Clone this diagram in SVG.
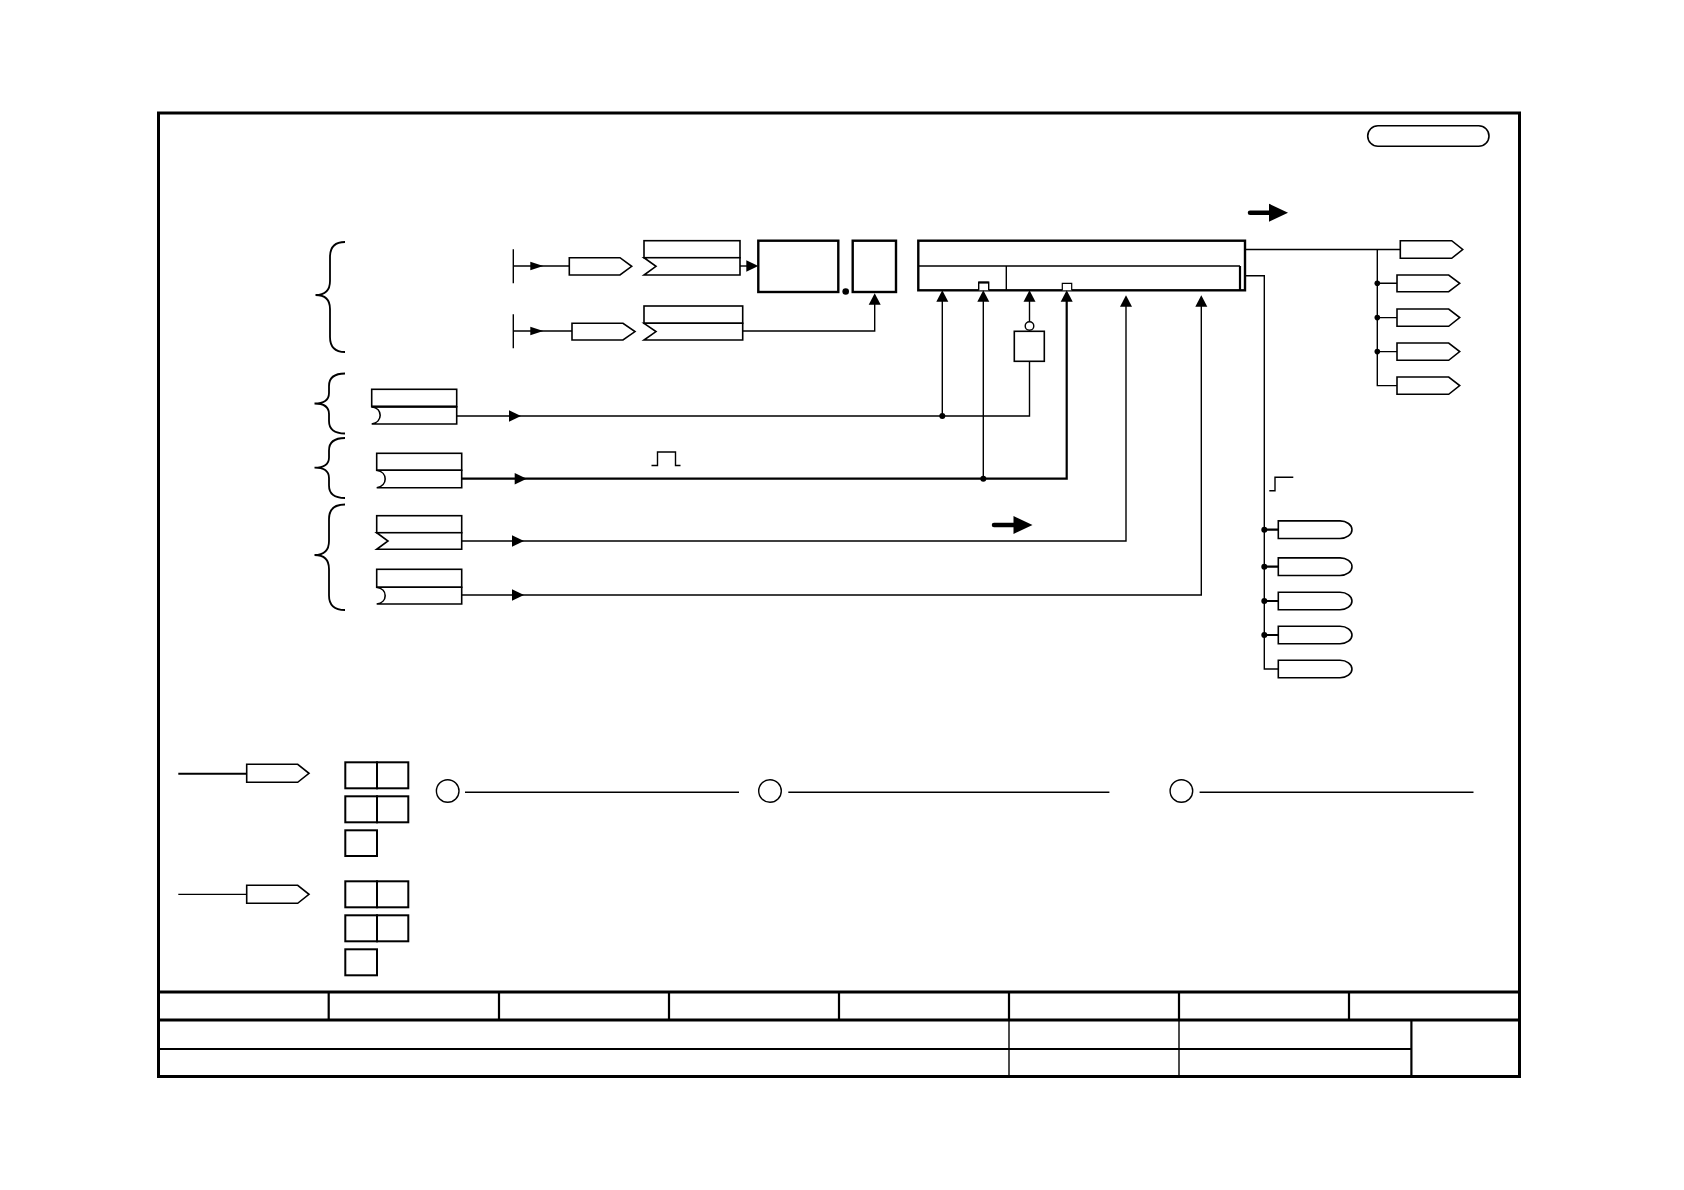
<svg xmlns="http://www.w3.org/2000/svg" width="1684" height="1190" viewBox="0 0 1684 1190">
<defs>
<path id="ah" d="M-12,-5.7 L0,0 L-12,5.7 Z"/>
<path id="ahs" d="M-13,-4.3 L0,0 L-13,4.3 Z"/>
<path id="au" d="M-6,11.5 L0,0 L6,11.5 Z"/>
</defs>
<style>
.s{fill:none;stroke:#000;stroke-width:1.4}
.k{fill:none;stroke:#000;stroke-width:2.2}
.b{fill:#fff;stroke:#000;stroke-width:1.6}
.bt{fill:#fff;stroke:#000;stroke-width:2.4}
.f{fill:#000;stroke:none}
.tb{fill:none;stroke:#000;stroke-width:3}
</style>
<rect width="1684" height="1190" fill="#fff"/>

<g id="frame">
<rect class="tb" x="158.5" y="113" width="1361" height="963.5"/>
<line class="tb" x1="158.5" y1="992" x2="1519.5" y2="992"/>
<line class="tb" x1="158.5" y1="1020" x2="1519.5" y2="1020"/>
<line class="k" x1="158.5" y1="1049" x2="1411.4" y2="1049"/>
<path class="k" d="M328.7,992V1020M499,992V1020M669,992V1020M839,992V1020M1009,992V1020M1179,992V1020M1349,992V1020"/>
<path class="s" d="M1009,1020V1076.5M1179,1020V1076.5"/>
<line class="k" x1="1411.4" y1="1020" x2="1411.4" y2="1076.5"/>
</g>

<g id="sheet-badge">
<rect class="b" x="1367.7" y="125.7" width="121.3" height="20.6" rx="10.3"/>
</g>

<g id="bold-arrows">
<line x1="1250" y1="212.7" x2="1271" y2="212.7" stroke="#000" stroke-width="4.5" stroke-linecap="round"/>
<polygon class="f" points="1269,203.7 1288,212.7 1269,221.7"/>
<line x1="994" y1="525" x2="1015" y2="525" stroke="#000" stroke-width="4.5" stroke-linecap="round"/>
<polygon class="f" points="1013.5,516 1032.5,525 1013.5,534"/>
</g>

<g id="braces" fill="none" stroke="#000" stroke-width="1.8">
<path d="M345,242 Q330,242 330,257 L330,281 Q330,295 315.5,295 Q330,295 330,309 L330,337 Q330,352 345,352"/>
<path d="M345,373.5 Q329,373.5 329,386 L329,393 Q329,403.5 314.5,403.5 Q329,403.5 329,414 L329,421 Q329,433.5 345,433.5"/>
<path d="M345,438 Q329,438 329,450.5 L329,457.5 Q329,467.7 314.5,467.7 Q329,467.7 329,478 L329,485.5 Q329,498 345,498"/>
<path d="M345,504.5 Q329,504.5 329,519 L329,541 Q329,555 314.5,555 Q329,555 329,569 L329,595.5 Q329,610 345,610"/>
</g>

<g id="src1">
<line class="s" x1="513.3" y1="249.3" x2="513.3" y2="283.3"/>
<path class="b" d="M569.3,257.7H620L631.7,266.3L620,275H569.3Z"/>
</g>
<g id="par1">
<rect class="b" x="644" y="240.7" width="96" height="17"/>
<path class="b" d="M644,257.7H740V275H644L656,266.3Z"/>
</g>
<g id="src2">
<line class="s" x1="513.3" y1="314.3" x2="513.3" y2="348.3"/>
<path class="b" d="M572,323.3H623L635,331.6L623,340H572Z"/>
</g>
<g id="par2">
<rect class="b" x="644" y="306" width="98.7" height="17.3"/>
<path class="b" d="M644,323.3H742.7V340H644L656,331.6Z"/>
</g>
<g id="blk1"><rect class="bt" x="758.3" y="240.7" width="80" height="51.3"/></g>
<g id="blk2"><rect class="bt" x="852.7" y="240.7" width="43.3" height="51.3"/></g>
<circle class="f" cx="845.7" cy="291.5" r="3.3"/>

<g id="main-block">
<rect class="bt" x="918.3" y="240.7" width="326.7" height="49.6"/>
<line class="s" x1="918.3" y1="266" x2="1240" y2="266"/>
<line class="s" x1="1006.3" y1="266" x2="1006.3" y2="290.3"/>
<line class="k" x1="1240" y1="266" x2="1240" y2="290.3"/>
<path fill="#fff" stroke="#000" stroke-width="1.4" d="M978.7,290.3V282.3H988.7V290.3"/>
<line x1="978.7" y1="282.6" x2="988.7" y2="282.6" stroke="#000" stroke-width="2"/>
<path fill="#fff" stroke="#000" stroke-width="1.2" d="M1062.3,290.3V283.3H1071.7V290.3"/>
</g>

<g id="inv-block">
<rect class="b" x="1014.3" y="331.3" width="30" height="30"/>
<circle cx="1029.5" cy="326" r="4.3" fill="#fff" stroke="#000" stroke-width="1.4"/>
</g>

<g id="inA">
<rect class="b" x="371.7" y="389.3" width="85" height="17.4"/>
<path class="b" d="M456.7,406.7H371.7C383,408.5 383,422.2 371.7,424H456.7Z"/>
<line x1="371.7" y1="406.7" x2="456.7" y2="406.7" stroke="#000" stroke-width="2.2"/>
</g>
<g id="inB">
<rect class="b" x="376.7" y="453.3" width="85" height="17"/>
<path class="b" d="M461.7,470.3H376.7C388,472 388,486 376.7,487.7H461.7Z"/>
</g>
<g id="inC">
<rect class="b" x="376.7" y="515.7" width="85" height="17"/>
<path class="b" d="M461.7,532.7H376.7L388,541L376.7,549.3H461.7Z"/>
</g>
<g id="inD">
<rect class="b" x="376.7" y="569.3" width="85" height="18"/>
<path class="b" d="M461.7,587.3H376.7C388,589 388,602.3 376.7,604H461.7Z"/>
</g>

<g id="pulse"><path class="s" d="M651.5,465.5H657.5V452H675.5V465.5H680.5"/></g>
<g id="step"><path class="s" d="M1269.3,490.7H1275V477.3H1293.3"/></g>

<g id="outs-top">
<path class="b" d="M1400.3,240.7H1451.7L1462.7,249.5L1451.7,258.3H1400.3Z"/>
<path class="b" d="M1397,275H1448.7L1459.7,283.3L1448.7,291.7H1397Z"/>
<path class="b" d="M1397,309H1448.7L1459.7,317.6L1448.7,326.3H1397Z"/>
<path class="b" d="M1397,343H1448.7L1459.7,351.6L1448.7,360.3H1397Z"/>
<path class="b" d="M1397,377H1448.7L1459.7,385.6L1448.7,394.3H1397Z"/>
</g>

<g id="outs-bottom">
<path class="b" d="M1278.3,520.9H1340A12,8.8 0 0 1 1340,538.5H1278.3Z"/>
<path class="b" d="M1278.3,557.9H1340A12,8.8 0 0 1 1340,575.5H1278.3Z"/>
<path class="b" d="M1278.3,592.2H1340A12,8.8 0 0 1 1340,609.8H1278.3Z"/>
<path class="b" d="M1278.3,626.2H1340A12,8.8 0 0 1 1340,643.8H1278.3Z"/>
<path class="b" d="M1278.3,660.2H1340A12,8.8 0 0 1 1340,677.8H1278.3Z"/>
</g>

<g id="legend">
<line x1="178.3" y1="773.7" x2="246.7" y2="773.7" stroke="#000" stroke-width="2"/>
<path class="b" d="M246.7,764.3H297.7L309,773.3L297.7,782.3H246.7Z"/>
<g fill="#fff" stroke="#000" stroke-width="2">
<rect x="345.3" y="762.3" width="31.7" height="26"/><rect x="377" y="762.3" width="31.3" height="26"/>
<rect x="345.3" y="796.3" width="31.7" height="26"/><rect x="377" y="796.3" width="31.3" height="26"/>
<rect x="345.3" y="830.3" width="31.7" height="25.7"/>
</g>
<line x1="178.3" y1="894.3" x2="246.7" y2="894.3" stroke="#000" stroke-width="1.2"/>
<path class="b" d="M246.7,885.3H297.7L309,894.3L297.7,903.3H246.7Z"/>
<g fill="#fff" stroke="#000" stroke-width="2">
<rect x="345.3" y="881.3" width="31.7" height="26"/><rect x="377" y="881.3" width="31.3" height="26"/>
<rect x="345.3" y="915.3" width="31.7" height="26"/><rect x="377" y="915.3" width="31.3" height="26"/>
<rect x="345.3" y="949.3" width="31.7" height="26"/>
</g>
</g>

<g id="refs">
<circle cx="447.7" cy="791" r="11.3" fill="#fff" stroke="#000" stroke-width="1.4"/>
<line class="s" x1="465" y1="792.3" x2="739" y2="792.3" stroke-width="1.2"/>
<circle cx="770" cy="791" r="11.3" fill="#fff" stroke="#000" stroke-width="1.4"/>
<line class="s" x1="788.3" y1="792.3" x2="1109.4" y2="792.3" stroke-width="1.2"/>
<circle cx="1181.4" cy="791" r="11.3" fill="#fff" stroke="#000" stroke-width="1.4"/>
<line class="s" x1="1199.6" y1="792.3" x2="1473.5" y2="792.3" stroke-width="1.2"/>
</g>

<g id="connectors">
<path class="s" d="M513.3,266H569.3"/>
<use href="#ahs" x="543.3" y="266"/>
<path class="s" d="M740,266H748"/>
<use href="#ah" x="758.3" y="266"/>
<path class="s" d="M513.3,331H572"/>
<use href="#ahs" x="543.3" y="331"/>
<path class="s" d="M742.7,331H874.7V300"/>
<use href="#au" x="874.7" y="293.3"/>

<path class="s" d="M456.7,416H1029.5V361.3" stroke-width="1.3"/>
<use href="#ah" x="521" y="416"/>
<path class="s" d="M942.3,416V300" stroke-width="1.3"/>
<circle class="f" cx="942.3" cy="416" r="3"/>
<use href="#au" x="942.3" y="290.3"/>
<path class="s" d="M1029.5,321.7V300" stroke-width="1.3"/>
<use href="#au" x="1029.5" y="290.3"/>

<path class="k" d="M461.7,478.7H1066.7V300"/>
<use href="#ah" x="526.7" y="478.7"/>
<path class="s" d="M983.3,478.7V300" stroke-width="1.3"/>
<circle class="f" cx="983.3" cy="478.7" r="3"/>
<use href="#au" x="983.3" y="290.3"/>
<use href="#au" x="1066.7" y="290.3"/>

<path class="s" d="M461.7,541H1126V305" stroke-width="1.7"/>
<use href="#ah" x="524" y="541"/>
<use href="#au" x="1126" y="295.3"/>

<path class="s" d="M461.7,595H1201.3V305" stroke-width="1.7"/>
<use href="#ah" x="524" y="595"/>
<use href="#au" x="1201.3" y="295.3"/>

<path class="s" d="M1245,249.5H1400.3"/>
<path class="s" d="M1377.3,249.5V385.6H1397M1377.3,283.3H1397M1377.3,317.6H1397M1377.3,351.6H1397"/>
<circle class="f" cx="1377.3" cy="283.3" r="2.8"/>
<circle class="f" cx="1377.3" cy="317.6" r="2.8"/>
<circle class="f" cx="1377.3" cy="351.6" r="2.8"/>

<path class="s" d="M1245,275.7H1264.3V669H1278.3"/>
<path class="k" d="M1264.3,529.7H1278.3M1264.3,566.7H1278.3M1264.3,601H1278.3M1264.3,635H1278.3"/>
<circle class="f" cx="1264.3" cy="529.7" r="3"/>
<circle class="f" cx="1264.3" cy="566.7" r="3"/>
<circle class="f" cx="1264.3" cy="601" r="3"/>
<circle class="f" cx="1264.3" cy="635" r="3"/>
</g>
</svg>
